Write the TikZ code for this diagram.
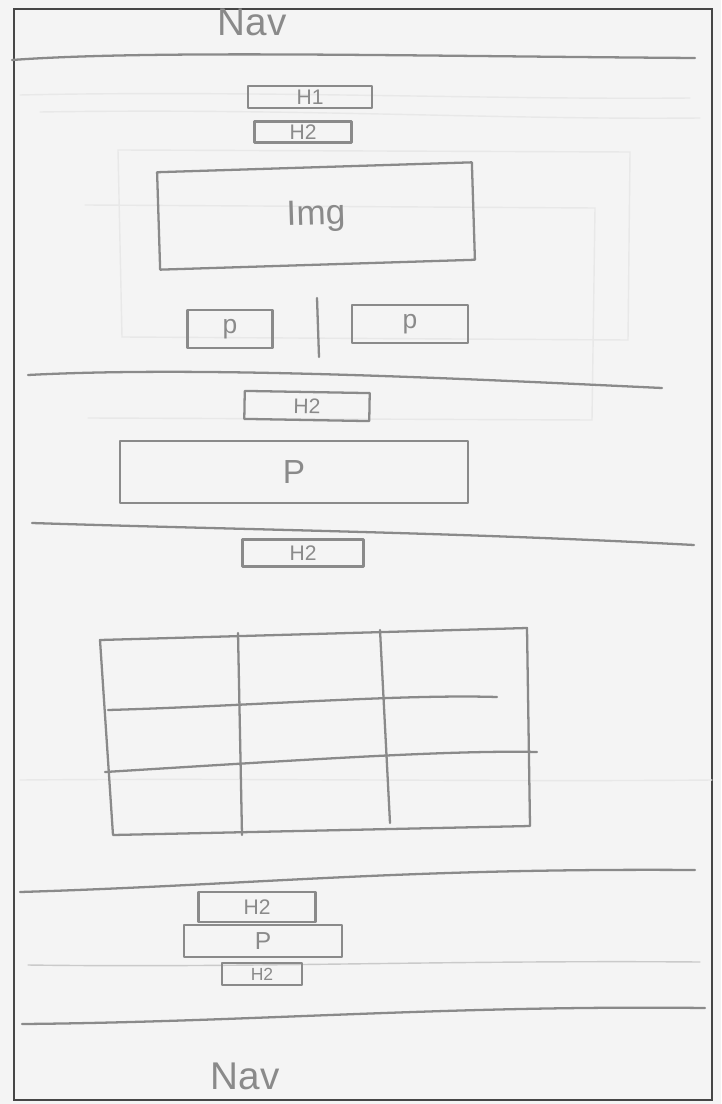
\documentclass[tikz,border=0pt]{standalone}
\usepackage{fontspec}
\setmainfont{Liberation Sans}
\usepackage{tikz}
\usepackage{xcolor}
\usetikzlibrary{positioning, calc}
\definecolor{cPencil}{RGB}{138,138,138}
\definecolor{cPaper}{RGB}{244,244,244}
\definecolor{cFrame}{RGB}{70,70,70}
\tikzset{
	pencil/.style ={draw=cPencil, line width=1.3pt, line cap=round, line join=round},
	ghost/.style  ={draw=cPencil!20, line width=0.8pt, line cap=round},
	wbox/.style   ={rectangle, pencil, text=cPencil, inner sep=0pt, align=center, font=\fontsize{12}{14}\selectfont},
	navlbl/.style ={text=cPencil, inner sep=0pt, font=\fontsize{22}{26}\selectfont},
}

\begin{document}
\begin{tikzpicture}[x=0.02cm, y=-0.02cm]
	% paper and frame
	\fill[cPaper] (0,0) rectangle (721,1104);
	\useasboundingbox (0,0) rectangle (721,1104);
	\draw[cFrame, line width=0.6pt] (14,9) rectangle (712,1100);
	% faint marks showing through the sheet
	\draw[ghost] (20,95) .. controls (250,90) and (500,100) .. (690,98);
	\draw[ghost] (40,112) .. controls (300,108) and (500,120) .. (700,118);
	\draw[ghost] (118,150) -- (630,152) -- (628,340) -- (122,337) -- cycle;
	\draw[ghost] (85,205) -- (595,208) -- (592,420) -- (88,418);
	\draw[ghost] (20,780) .. controls (250,778) and (500,782) .. (712,780);
	% top nav
	\node[navlbl] (navtop) at (252,22) {Nav};
	\draw[pencil] (12,60) .. controls (150,50) and (400,56) .. (695,58);
	% hero section
	\node[wbox, minimum width=2.48cm, minimum height=0.44cm] (hone) at (310,97) {H1};
	\node[wbox, minimum width=1.94cm, minimum height=0.42cm] (htwoa) at (303,132) {H2};
	\node[wbox, minimum width=6.3cm, minimum height=1.95cm, rotate=1.8,
		font=\fontsize{20}{24}\selectfont] (img) at (316,216) {Img};
	\node[wbox, minimum width=1.7cm, minimum height=0.76cm, font=\fontsize{15}{18}\selectfont] (pleft) at (230,329) {p};
	\node[wbox, minimum width=2.32cm, minimum height=0.76cm, font=\fontsize{15}{18}\selectfont] (pright) at (410,324) {p};
	\draw[pencil] (317,298) -- (319,357);
	\draw[pencil] (28,375) .. controls (200,366) and (450,378) .. (662,388);
	% text section
	\node[wbox, minimum width=2.5cm, minimum height=0.56cm, rotate=-1] (htwob) at (307,406) {H2};
	\node[wbox, minimum width=6.96cm, minimum height=1.24cm, font=\fontsize{19}{22}\selectfont] (pwide) at (294,472) {P};
	\draw[pencil] (32,523) .. controls (250,530) and (450,532) .. (694,545);
	% table section
	\node[wbox, minimum width=2.42cm, minimum height=0.54cm] (htwoc) at (303,553) {H2};
	\draw[pencil] (100,640) -- (527,628) -- (530,826) -- (113,835) -- cycle;
	\draw[pencil] (238,633) -- (242,835);
	\draw[pencil] (380,630) -- (390,823);
	\draw[pencil] (108,710) .. controls (250,706) and (400,694) .. (497,697);
	\draw[pencil] (105,772) .. controls (300,760) and (450,750) .. (537,752);
	% footer section
	\draw[pencil] (20,892) .. controls (250,885) and (400,868) .. (695,870);
	\node[wbox, minimum width=2.34cm, minimum height=0.6cm] (htwod) at (257,907) {H2};
	\node[wbox, minimum width=3.16cm, minimum height=0.64cm, font=\fontsize{14}{16}\selectfont] (pfoot) at (263,941) {P};
	\draw[ghost, draw=cPencil!45] (28,965) .. controls (250,968) and (450,960) .. (700,962);
	\node[wbox, minimum width=1.6cm, minimum height=0.44cm, font=\fontsize{10}{12}\selectfont] (htwoe) at (262,974) {H2};
	\draw[pencil] (22,1024) .. controls (250,1022) and (450,1005) .. (705,1008);
	\node[navlbl] (navbot) at (245,1076) {Nav};
\end{tikzpicture}
\end{document}
